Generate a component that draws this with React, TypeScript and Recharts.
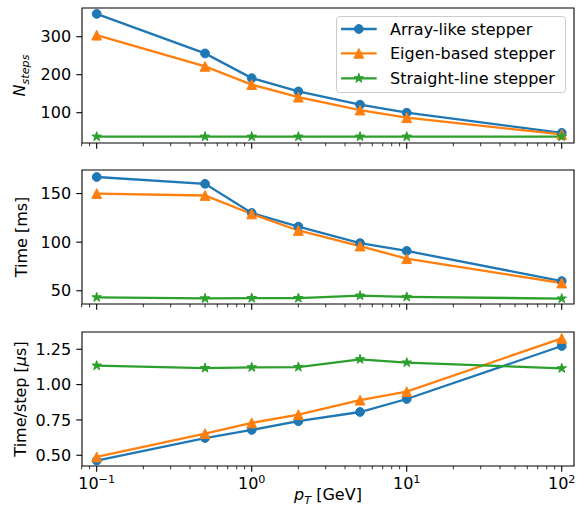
import React from 'react';
import { LineChart, Line, XAxis, YAxis, Legend, ReferenceArea } from 'recharts';

const ptValues = [0.1, 0.5, 1, 2, 5, 10, 100];
const seriesNames = ['Array-like stepper', 'Eigen-based stepper', 'Straight-line stepper'];
const seriesColors = ['#1f77b4', '#ff7f0e', '#2ca02c'];
const seriesMarkers = ['circle', 'triangle', 'star'];

const stepsArray = [360, 256, 191, 156, 121, 100, 47];
const stepsEigen = [304, 222, 174, 141, 107, 87, 43];
const stepsStraight = [37, 37, 37, 37, 37, 37, 37];

const timeArray = [167, 160, 130, 116, 99, 91, 60];
const timeEigen = [150, 148, 129, 112, 96, 83, 58];
const timeStraight = [43.2, 42.2, 42.5, 42.5, 45, 43.7, 42];

const perStepArray = [0.462, 0.622, 0.679, 0.741, 0.806, 0.898, 1.273];
const perStepEigen = [0.488, 0.653, 0.729, 0.787, 0.89, 0.95, 1.327];
const perStepStraight = [1.134, 1.117, 1.122, 1.124, 1.179, 1.156, 1.115];

const xMajorTicks = [0.1, 1, 10, 100];
const xMajorExponents = ['\u22121', '0', '1', '2'];
const xMinorTicks = [
  0.08, 0.09, 0.2, 0.3, 0.4, 0.5, 0.6, 0.7, 0.8, 0.9,
  2, 3, 4, 5, 6, 7, 8, 9, 20, 30, 40, 50, 60, 70, 80, 90,
];
const xDomain = [0.0804, 120];

const stepsTicks = [100, 200, 300];
const timeTicks = [50, 100, 150];
const perStepTicks = [0.5, 0.75, 1.0, 1.25];

const stepsDomain = [20.3, 375.5];
const timeDomain = [36.4, 174.2];
const perStepDomain = [0.424, 1.372];

const FONT = '"DejaVu Sans", sans-serif';
const xTicksAll = [...xMajorTicks, ...xMinorTicks].sort((a, b) => a - b);

const buildRows = (a: number[], e: number[], s: number[]) =>
  ptValues.map((pt, i) => ({ pt, array: a[i], eigen: e[i], straight: s[i] }));

const stepsRows = buildRows(stepsArray, stepsEigen, stepsStraight);
const timeRows = buildRows(timeArray, timeEigen, timeStraight);
const perStepRows = buildRows(perStepArray, perStepEigen, perStepStraight);

const markerShape = (kind: string, cx: number, cy: number, color: string, key?: string) => {
  if (kind === 'circle') {
    return <circle key={key} cx={cx} cy={cy} r={4.4} fill={color} stroke={color} strokeWidth={1} />;
  }
  if (kind === 'triangle') {
    const s = 4.9;
    return (
      <path
        key={key}
        d={`M${cx},${cy - s}L${cx + s},${cy + s}L${cx - s},${cy + s}Z`}
        fill={color}
        stroke={color}
        strokeWidth={1}
        strokeLinejoin="miter"
      />
    );
  }
  const ro = 5.0;
  const ri = ro * 0.381966;
  let d = '';
  for (let k = 0; k < 10; k++) {
    const r = k % 2 === 0 ? ro : ri;
    const ang = -Math.PI / 2 + (k * Math.PI) / 5;
    d += `${k === 0 ? 'M' : 'L'}${cx + r * Math.cos(ang)},${cy + r * Math.sin(ang)}`;
  }
  d += 'Z';
  return <path key={key} d={d} fill={color} stroke={color} strokeWidth={1} strokeLinejoin="miter" />;
};

const makeDot = (kind: string, color: string) => (props: any) => {
  const { cx, cy, index } = props;
  if (cx == null || cy == null) return <g key={`e-${index}`} />;
  return markerShape(kind, cx, cy, color, `d-${kind}-${index}`);
};

const XTick = (props: any) => {
  const { x, y, payload, showLabel } = props;
  const v = payload.value;
  const idx = xMajorTicks.findIndex((m) => Math.abs(m - v) / m < 1e-6);
  const major = idx >= 0;
  return (
    <g>
      <line
        x1={x}
        x2={x}
        y1={y}
        y2={y + (major ? 5.7 : 3.3)}
        stroke="#000"
        strokeWidth={major ? 1.1 : 0.8}
      />
      {showLabel && major && (
        <text x={x} y={y + 23} textAnchor="middle" fontSize={16} fontFamily={FONT} fill="#000">
          10
          <tspan dy={-6} fontSize={11.2}>
            {xMajorExponents[idx]}
          </tspan>
        </text>
      )}
    </g>
  );
};

const YLabel = (props: any) => {
  const { viewBox, kind, baseX } = props;
  const vb = viewBox || { x: 0, y: 0, width: 82, height: 135 };
  const cy = vb.y + vb.height / 2;
  const cx = baseX;
  let content: React.ReactNode;
  if (kind === 'steps') {
    content = (
      <>
        <tspan fontStyle="italic">N</tspan>
        <tspan fontStyle="italic" fontSize={11.2} dy={3.5}>
          steps
        </tspan>
      </>
    );
  } else if (kind === 'time') {
    content = 'Time [ms]';
  } else {
    content = (
      <>
        <tspan>Time/step [</tspan>
        <tspan fontStyle="italic">μ</tspan>
        <tspan>s]</tspan>
      </>
    );
  }
  return (
    <text
      x={cx}
      y={cy}
      transform={`rotate(-90, ${cx}, ${cy})`}
      textAnchor="middle"
      fontSize={16}
      fontFamily={FONT}
      fill="#000"
    >
      {content}
    </text>
  );
};

const XLabel = (props: any) => {
  const { viewBox } = props;
  const vb = viewBox || { x: 82, y: 466, width: 492, height: 51 };
  const cx = vb.x + vb.width / 2;
  return (
    <text x={cx} y={vb.y + 34} textAnchor="middle" fontSize={16} fontFamily={FONT} fill="#000">
      <tspan fontStyle="italic">p</tspan>
      <tspan fontStyle="italic" fontSize={11.2} dy={3.5}>
        T
      </tspan>
      <tspan dy={-3.5}> [GeV]</tspan>
    </text>
  );
};

const LegendBox = () => {
  const rowsY = [13, 37.3, 62.3];
  return (
    <svg width={231} height={78} style={{ display: 'block' }}>
      <rect x={0.5} y={0.5} width={229} height={76} rx={3} ry={3} fill="#fff" fillOpacity={0.8} stroke="#cccccc" strokeWidth={1} />
      {seriesNames.map((name, i) => (
        <g key={name}>
          <line x1={5} x2={40.7} y1={rowsY[i]} y2={rowsY[i]} stroke={seriesColors[i]} strokeWidth={2.3} />
          {markerShape(seriesMarkers[i], 22.8, rowsY[i], seriesColors[i])}
          <text x={54} y={rowsY[i]} dy="0.36em" fontSize={16} fontFamily={FONT} fill="#000">
            {name}
          </text>
        </g>
      ))}
    </svg>
  );
};

const yTickStyle = { fill: '#000', fontSize: 16, fontFamily: FONT };

type PanelProps = {
  rows: any[];
  height: number;
  top: number;
  marginTop: number;
  xAxisHeight: number;
  yDomain: number[];
  yTicks: number[];
  yFormat: (v: number) => string;
  labelKind: string;
  labelX: number;
  bottom: boolean;
  legend: boolean;
};

const Panel = (p: PanelProps) => (
  <div style={{ position: 'absolute', left: 0, top: p.top, width: 584, height: p.height }}>
    <LineChart
      width={584}
      height={p.height}
      data={p.rows}
      margin={{ top: p.marginTop, right: 10, bottom: 0, left: 0 }}
    >
      <XAxis
        dataKey="pt"
        type="number"
        scale="log"
        domain={xDomain}
        ticks={xTicksAll}
        interval={0}
        height={p.xAxisHeight}
        axisLine={false}
        tickLine={false}
        tickSize={0}
        tickMargin={0}
        tick={(tp: any) => <XTick {...tp} showLabel={p.bottom} />}
        label={p.bottom ? (lp: any) => <XLabel {...lp} /> : undefined}
      />
      <YAxis
        type="number"
        domain={p.yDomain}
        ticks={p.yTicks}
        interval={0}
        width={82}
        axisLine={false}
        tickLine={{ stroke: '#000', strokeWidth: 1.1 }}
        tickSize={5.7}
        tickMargin={5.2}
        tick={yTickStyle}
        tickFormatter={p.yFormat}
        label={(lp: any) => <YLabel {...lp} kind={p.labelKind} baseX={p.labelX} />}
      />
      <Line
        dataKey="array"
        name={seriesNames[0]}
        stroke={seriesColors[0]}
        strokeWidth={2.3}
        dot={makeDot('circle', seriesColors[0])}
        activeDot={false}
        isAnimationActive={false}
      />
      <Line
        dataKey="eigen"
        name={seriesNames[1]}
        stroke={seriesColors[1]}
        strokeWidth={2.3}
        dot={makeDot('triangle', seriesColors[1])}
        activeDot={false}
        isAnimationActive={false}
      />
      <Line
        dataKey="straight"
        name={seriesNames[2]}
        stroke={seriesColors[2]}
        strokeWidth={2.3}
        dot={makeDot('star', seriesColors[2])}
        activeDot={false}
        isAnimationActive={false}
      />
      <ReferenceArea
        x1={xDomain[0]}
        x2={xDomain[1]}
        y1={p.yDomain[0]}
        y2={p.yDomain[1]}
        fill="none"
        fillOpacity={0}
        stroke="#000"
        strokeWidth={1.1}
        ifOverflow="visible"
      />
      {p.legend && (
        <Legend
          layout="vertical"
          align="center"
          verticalAlign="middle"
          content={() => <LegendBox />}
          wrapperStyle={{ position: 'absolute', top: 16, left: 336, width: 231, height: 78 }}
        />
      )}
    </LineChart>
  </div>
);

export default function App() {
  return (
    <div
      style={{
        position: 'absolute',
        left: 0,
        top: 0,
        width: 584,
        height: 517,
        background: '#fff',
        fontFamily: FONT,
      }}
    >
      <Panel
        rows={stepsRows}
        top={0}
        height={157}
        marginTop={8}
        xAxisHeight={14}
        yDomain={stepsDomain}
        yTicks={stepsTicks}
        yFormat={(v) => String(v)}
        labelKind="steps"
        labelX={25}
        bottom={false}
        legend={true}
      />
      <Panel
        rows={timeRows}
        top={160}
        height={158}
        marginTop={10}
        xAxisHeight={14}
        yDomain={timeDomain}
        yTicks={timeTicks}
        yFormat={(v) => String(v)}
        labelKind="time"
        labelX={27}
        bottom={false}
        legend={false}
      />
      <Panel
        rows={perStepRows}
        top={320}
        height={197}
        marginTop={12}
        xAxisHeight={51}
        yDomain={perStepDomain}
        yTicks={perStepTicks}
        yFormat={(v) => v.toFixed(2)}
        labelKind="perstep"
        labelX={26}
        bottom={true}
        legend={false}
      />
    </div>
  );
}
